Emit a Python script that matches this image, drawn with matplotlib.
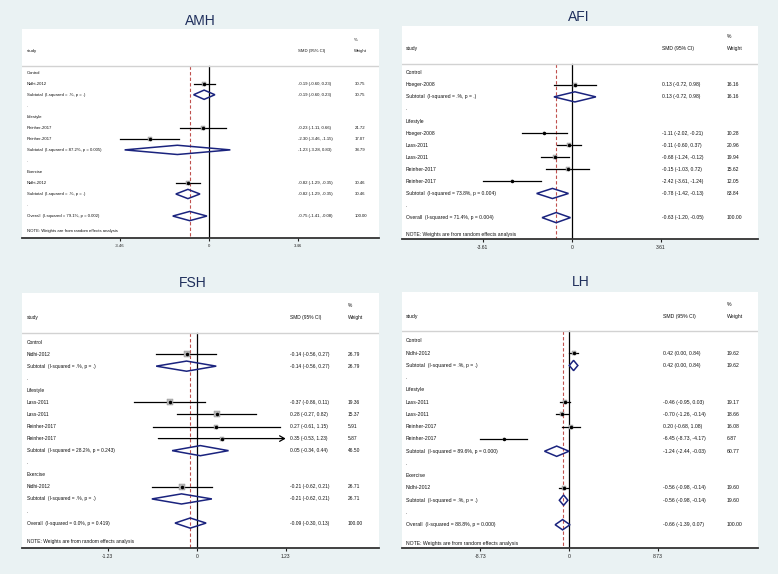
import matplotlib
matplotlib.use("Agg")
import matplotlib.pyplot as plt
import matplotlib.transforms as mtransforms

plt.rcParams['font.family'] = ['Liberation Sans', 'DejaVu Sans']

# ---- data ----
amh_labels = ["Control", "Nidhi-2012", "Subtotal  (I-squared = .%, p = .)", ".",
              "Lifestyle", "Reinher-2017", "Reinher-2017",
              "Subtotal  (I-squared = 87.2%, p = 0.005)", ".",
              "Exercise", "Nidhi-2012", "Subtotal  (I-squared = .%, p = .)", ".",
              "Overall  (I-squared = 79.1%, p = 0.002)"]
amh_est = [None, -0.19, -0.19, None, None, -0.23, -2.30, -1.23, None, None, -0.82, -0.82, None, -0.75]
amh_lo = [None, -0.60, -0.60, None, None, -1.11, -3.46, -3.28, None, None, -1.29, -1.29, None, -1.41]
amh_hi = [None, 0.23, 0.23, None, None, 0.66, -1.15, 0.83, None, None, -0.35, -0.35, None, -0.08]
amh_wt = [None, 30.75, 30.75, None, None, 21.72, 17.07, 38.79, None, None, 30.46, 30.46, None, 100.00]
amh_ticks = [-3.46, 0, 3.46]

afi_labels = ["Control", "Hoeger-2008", "Subtotal  (I-squared = .%, p = .)", ".",
              "Lifestyle", "Hoeger-2008", "Lass-2011", "Lass-2011", "Reinher-2017", "Reinher-2017",
              "Subtotal  (I-squared = 73.8%, p = 0.004)", ".",
              "Overall  (I-squared = 71.4%, p = 0.004)"]
afi_est = [None, 0.13, 0.13, None, None, -1.11, -0.11, -0.68, -0.15, -2.42, -0.78, None, -0.63]
afi_lo = [None, -0.72, -0.72, None, None, -2.02, -0.60, -1.24, -1.03, -3.61, -1.42, None, -1.20]
afi_hi = [None, 0.98, 0.98, None, None, -0.21, 0.37, -0.12, 0.72, -1.24, -0.13, None, -0.05]
afi_wt = [None, 16.16, 16.16, None, None, 10.28, 20.96, 19.94, 15.62, 12.05, 83.84, None, 100.00]
afi_ticks = [-3.61, 0, 3.61]

fsh_labels = ["Control", "Nidhi-2012", "Subtotal  (I-squared = .%, p = .)", ".",
              "Lifestyle", "Lass-2011", "Lass-2011", "Reinher-2017", "Reinher-2017",
              "Subtotal  (I-squared = 28.2%, p = 0.243)", ".",
              "Exercise", "Nidhi-2012", "Subtotal  (I-squared = .%, p = .)", ".",
              "Overall  (I-squared = 0.0%, p = 0.419)"]
fsh_est = [None, -0.14, -0.14, None, None, -0.37, 0.28, 0.27, 0.35, 0.05, None, None, -0.21, -0.21, None, -0.09]
fsh_lo = [None, -0.56, -0.56, None, None, -0.86, -0.27, -0.61, -0.53, -0.34, None, None, -0.62, -0.62, None, -0.30]
fsh_hi = [None, 0.27, 0.27, None, None, 0.11, 0.82, 1.15, 1.23, 0.44, None, None, 0.21, 0.21, None, 0.13]
fsh_wt = [None, 26.79, 26.79, None, None, 19.36, 15.37, 5.91, 5.87, 46.50, None, None, 26.71, 26.71, None, 100.00]
fsh_ticks = [-1.23, 0, 1.23]

lh_labels = ["Control", "Nidhi-2012", "Subtotal  (I-squared = .%, p = .)", ".",
             "Lifestyle", "Lass-2011", "Lass-2011", "Reinher-2017", "Reinher-2017",
             "Subtotal  (I-squared = 89.6%, p = 0.000)", ".",
             "Exercise", "Nidhi-2012", "Subtotal  (I-squared = .%, p = .)", ".",
             "Overall  (I-squared = 88.8%, p = 0.000)"]
lh_est = [None, 0.42, 0.42, None, None, -0.46, -0.70, 0.20, -6.45, -1.24, None, None, -0.56, -0.56, None, -0.66]
lh_lo = [None, 0.00, 0.00, None, None, -0.95, -1.26, -0.68, -8.73, -2.44, None, None, -0.98, -0.98, None, -1.39]
lh_hi = [None, 0.84, 0.84, None, None, 0.03, -0.14, 1.08, -4.17, -0.03, None, None, -0.14, -0.14, None, 0.07]
lh_wt = [None, 19.62, 19.62, None, None, 19.17, 18.66, 16.08, 6.87, 60.77, None, None, 19.60, 19.60, None, 100.00]
lh_ticks = [-8.73, 0, 8.73]

# ---- layout (pixels of the 778x574 picture) ----
W, H = 778, 574
BG = '#eaf2f3'
NAVY = '#1a237e'
TITLE_C = '#1f2f5c'

amh_lay = dict(rect=(22, 29, 379, 238), zero=209, scale=25.72, top=-3.96, pad=1.99,
               sep=-0.63, note=1.4, fs=3.1, cols=(0.013, 0.772, 0.931), box=0.75,
               title=(200.5, 20.7), arrows=())
afi_lay = dict(rect=(402, 26, 758, 239), zero=571.7, scale=24.70, top=-3.87, pad=1.77,
               sep=-0.72, note=1.41, fs=3.6, cols=(0.0104, 0.7295, 0.912), box=0.85,
               title=(579, 17.3), arrows=())
fsh_lay = dict(rect=(22, 293, 379, 547.7), zero=196.7, scale=72.36, top=-4.06, pad=2.04,
               sep=-0.77, note=1.55, fs=3.5, cols=(0.013, 0.751, 0.912), box=1.3,
               title=(193, 283), arrows=(8,))
lh_lay = dict(rect=(402, 292, 758, 548), zero=569.3, scale=10.18, top=-4.0, pad=1.9,
              sep=-0.82, note=1.5, fs=3.7, cols=(0.0104, 0.732, 0.912), box=0.9,
              title=(580.7, 282), arrows=())


def draw_panel(fig, name, labels, est, lo, hi, wt, ticks, lay):
    x0, y0, x1, y1 = lay['rect']
    ax = fig.add_axes([x0 / W, 1 - y1 / H, (x1 - x0) / W, (y1 - y0) / H])
    ax.set_facecolor('white')
    ax.set_xlim((x0 - lay['zero']) / lay['scale'], (x1 - lay['zero']) / lay['scale'])
    last = len(labels) - 1
    ybot = last + lay['pad']
    ax.set_ylim(ybot, lay['top'])
    fs = lay['fs']
    c0, c1, c2 = lay['cols']
    tr = mtransforms.blended_transform_factory(ax.transAxes, ax.transData)
    kw = dict(transform=tr, fontsize=fs, va='center', ha='left', color='#111111')

    # header
    ax.text(c0, -2, 'study', **kw)
    ax.text(c1, -2, 'SMD (95% CI)', **kw)
    ax.text(c2, -3, '%', **kw)
    ax.text(c2, -2, 'Weight', **kw)
    ax.axhline(lay['sep'], color='#d2d2d2', lw=1.0)

    # null line and overall line
    ax.plot([0, 0], [lay['sep'], ybot], color='black', lw=0.9, zorder=1)
    ax.plot([est[-1], est[-1]], [lay['sep'], ybot], color='#c0504d', lw=0.8,
            dashes=(3, 2), zorder=1)

    for i, lab in enumerate(labels):
        ax.text(c0, i, lab, **kw)
        if est[i] is None:
            continue
        ax.text(c1, i, f"{est[i]:.2f} ({lo[i]:.2f}, {hi[i]:.2f})", **kw)
        ax.text(c2, i, f"{wt[i]:.2f}", **kw)
        if lab.startswith(('Subtotal', 'Overall')):
            h = 0.42
            ax.fill([lo[i], est[i], hi[i], est[i]], [i, i - h, i, i + h],
                    fill=False, edgecolor=NAVY, lw=1.1, zorder=3)
        else:
            if i in lay['arrows']:
                ax.annotate('', xy=(hi[i], i), xytext=(lo[i], i),
                            arrowprops=dict(arrowstyle='->,head_length=0.35,head_width=0.2',
                                            color='black', lw=0.9, shrinkA=0, shrinkB=0))
            else:
                ax.plot([lo[i], hi[i]], [i, i], color='black', lw=0.9, zorder=2)
            side = lay['box'] * wt[i] ** 0.5 * 0.72
            ax.plot(est[i], i, marker='s', ms=side, mfc='#b8b8b8', mec='#8c8c8c',
                    mew=0.3, ls='none', zorder=3)
            ax.plot(est[i], i, marker='o', ms=1.5, color='black', ls='none', zorder=4)

    ax.text(c0, last + lay['note'], 'NOTE: Weights are from random effects analysis', **kw)

    for s in ('top', 'left', 'right'):
        ax.spines[s].set_visible(False)
    ax.spines['bottom'].set_color('#333333')
    ax.spines['bottom'].set_linewidth(1.3)
    ax.set_yticks([])
    ax.set_xticks(ticks)
    ax.set_xticklabels([f"{t:g}" for t in ticks])
    ax.tick_params(axis='x', length=2.5, width=0.8, pad=2, labelsize=fs,
                   colors='#222222')

    tx, ty = lay['title']
    fig.text(tx / W, 1 - ty / H, name, ha='center', va='center', fontsize=10,
             color=TITLE_C)
    return ax


fig = plt.figure(figsize=(W / 100, H / 100), dpi=100, facecolor=BG)
draw_panel(fig, 'AMH', amh_labels, amh_est, amh_lo, amh_hi, amh_wt, amh_ticks, amh_lay)
draw_panel(fig, 'AFI', afi_labels, afi_est, afi_lo, afi_hi, afi_wt, afi_ticks, afi_lay)
draw_panel(fig, 'FSH', fsh_labels, fsh_est, fsh_lo, fsh_hi, fsh_wt, fsh_ticks, fsh_lay)
draw_panel(fig, 'LH', lh_labels, lh_est, lh_lo, lh_hi, lh_wt, lh_ticks, lh_lay)

fig.savefig('out.png', dpi=100, facecolor=BG)
